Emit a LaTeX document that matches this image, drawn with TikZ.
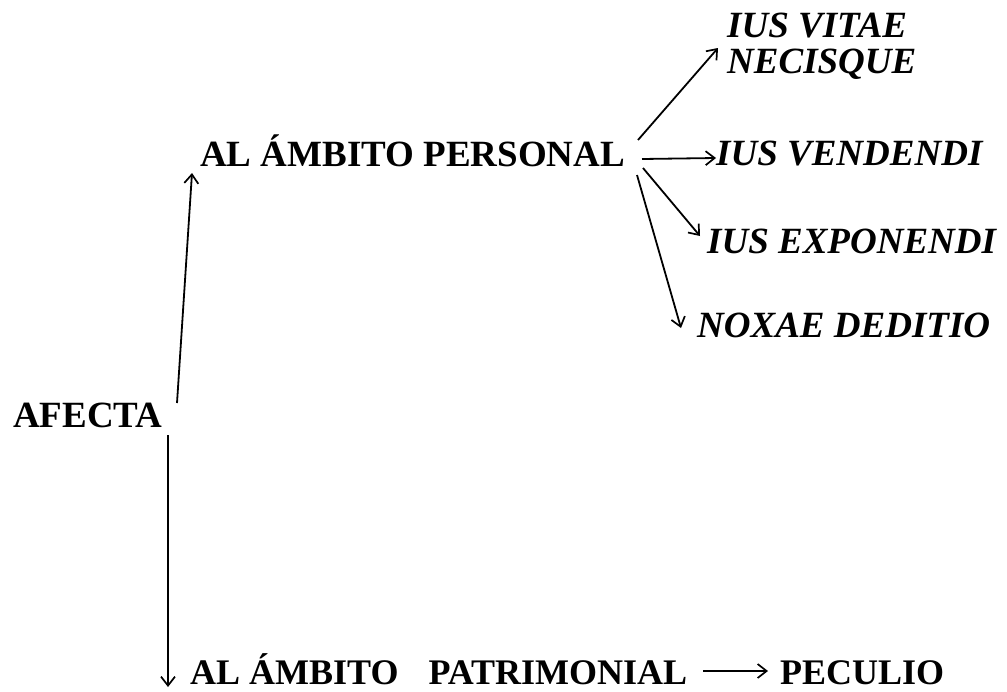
\documentclass[tikz,border=0pt]{standalone}
\usepackage{fontspec}
\setmainfont{Liberation Serif}
\newfontfamily\tnrb{Liberation Serif Bold}
\newfontfamily\tnrbi{Liberation Serif Bold Italic}
\usetikzlibrary{arrows.meta}
\begin{document}
\begin{tikzpicture}[x=1pt,y=-1pt,
  rtx/.style={inner sep=0pt,anchor=base west,font=\tnrb\fontsize{37}{37}\selectfont},
  btx/.style={inner sep=0pt,anchor=base west,font=\tnrb\fontsize{36}{36}\selectfont},
  itx/.style={inner sep=0pt,anchor=base west,font=\tnrbi\fontsize{37}{36}\selectfont},
  arr/.style={line width=1.8pt,-{Straight Barb[length=9pt,width=14pt,line width=1.7pt]}}]
\useasboundingbox (0,0) rectangle (1007,691);
% nodes
\node[rtx] (afecta) at (13,427) {AFECTA};
\node[rtx] (pers) at (200,166) {AL ÁMBITO PERSONAL};
\node[itx,align=left,anchor=north west] (vitae) at (727,13) {IUS VITAE\\NECISQUE};
\node[itx] (vend) at (716,165) {IUS VENDENDI};
\node[itx] (expo) at (707,253) {IUS EXPONENDI};
\node[itx] (noxae) at (697,337) {NOXAE DEDITIO};
\node[btx] (patr) at (190,684) {AL ÁMBITO\hspace{30pt}PATRIMONIAL};
\node[btx] (pec) at (780,684) {PECULIO};
% connectors
\draw[arr] ([shift={(164,-24)}]afecta.base west) -- ([shift={(-8,7)}]pers.base west);
\draw[arr] ([shift={(155,8)}]afecta.base west) -- ([shift={(-22,3)}]patr.base west);
\draw[arr] ([shift={(438,-26)}]pers.base west) -- ([shift={(-9,35)}]vitae.north west);
\draw[arr] ([shift={(442,-7)}]pers.base west) -- ([shift={(0,-7)}]vend.base west);
\draw[arr] ([shift={(443,2)}]pers.base west) -- ([shift={(-7,-17)}]expo.base west);
\draw[arr] ([shift={(437,9)}]pers.base west) -- ([shift={(-16,-9)}]noxae.base west);
\draw[arr] ([shift={(513,-13)}]patr.base west) -- ([shift={(-12,-13)}]pec.base west);
\end{tikzpicture}
\end{document}
